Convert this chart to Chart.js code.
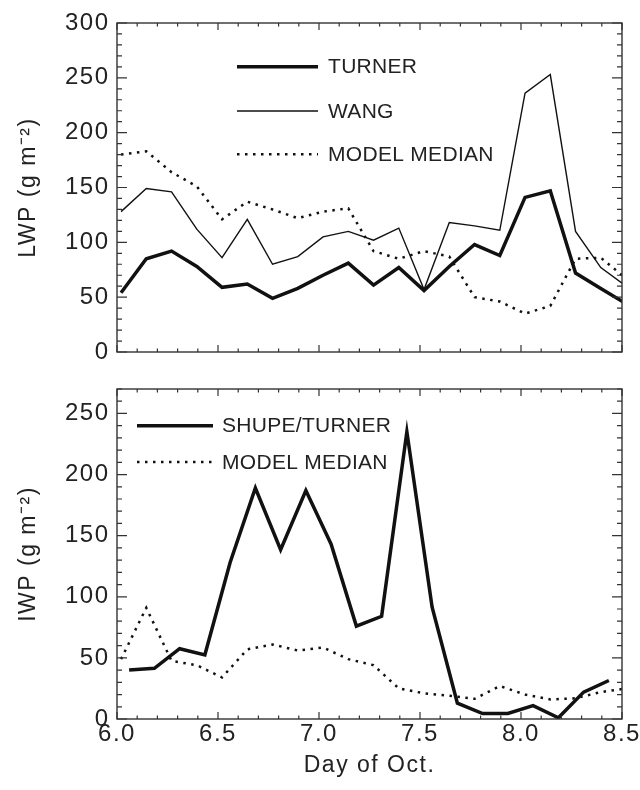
<!DOCTYPE html>
<html>
<head>
<meta charset="utf-8">
<script src="https://cdn.jsdelivr.net/npm/chart.js@4.4.0/dist/chart.umd.min.js"></script>
<style>
  html, body { margin: 0; padding: 0; background: #fff; }
  .painel { position: absolute; left: 0; width: 640px; }
  #painelLwp { top: 0; height: 370px; }
  #painelIwp { top: 370px; height: 420px; }
</style>
</head>
<body>
<div class="painel" id="painelLwp"><canvas id="graficoLwp"></canvas></div>
<div class="painel" id="painelIwp"><canvas id="graficoIwp"></canvas></div>
<script>
// dias (3 em 3 horas) das series de agua liquida e do modelo
const diasLwp = [6.02, 6.145, 6.27, 6.395, 6.52, 6.645, 6.77, 6.895, 7.02, 7.145, 7.27,
    7.395, 7.52, 7.645, 7.77, 7.895, 8.02, 8.145, 8.27, 8.395, 8.52];
const turnerLwp = [54, 85, 92, 78, 59, 62, 49, 58, 70, 81, 61, 77, 56, 78, 98, 88, 141, 147, 72, 58, 44];
const wangLwp = [128, 149, 146, 112, 86, 121, 80, 87, 105, 110, 102, 113, 57, 118, 115, 111, 236, 253, 110, 77, 60];
const modeloLwp = [180, 183, 164, 151, 121, 137, 130, 122, 128, 131, 92, 85, 92, 87, 50, 46, 35, 42, 85, 86, 67];

// gelo: SHUPE/TURNER tem outro horario
const diasIwp = [6.06, 6.185, 6.31, 6.435, 6.56, 6.685, 6.81, 6.935, 7.06, 7.185, 7.31,
    7.435, 7.56, 7.685, 7.81, 7.935, 8.06, 8.185, 8.31, 8.435];
const shupeIwp = [40, 41.5, 57.5, 52.5, 128, 189, 138.5, 187, 143, 76, 84, 235, 91.5, 13, 4.5, 4.5, 11, 1, 22, 31.5];
const modeloIwp = [49, 91, 47.5, 44, 34, 57, 61, 56, 58.5, 49, 44, 25, 21, 19, 16.5, 27, 20, 16, 17, 22, 25];

const ticksDia = [6.0, 6.5, 7.0, 7.5, 8.0, 8.5];
const ticksLwp = [0, 50, 100, 150, 200, 250, 300];
const ticksIwp = [0, 50, 100, 150, 200, 250];

Chart.defaults.font.family = '"Liberation Sans", Arial, sans-serif';
Chart.defaults.color = '#222';

function pontos(dias, valores) {
    return valores.map((v, i) => ({ x: dias[i], y: v }));
}

// caixa em volta do grafico com marcas para dentro nos quatro lados
const marcasInternas = {
    id: 'marcasInternas',
    afterDraw(chart, args, opts) {
        const { ctx, chartArea: a, scales } = chart;
        ctx.save();
        ctx.strokeStyle = '#333';
        ctx.lineWidth = 1.4;
        ctx.strokeRect(a.left, a.top, a.right - a.left, a.bottom - a.top);
        ctx.lineWidth = 1.2;

        const x = scales.x;
        let n = Math.round((x.max - x.min) / opts.xMenor);
        for (let i = 0; i <= n; i++) {
            const v = x.min + i * opts.xMenor;
            const maior = Math.abs(v / 0.5 - Math.round(v / 0.5)) < 1e-6;
            const len = maior ? 7 : 3.5;
            const px = x.getPixelForValue(v);
            ctx.beginPath();
            ctx.moveTo(px, a.bottom); ctx.lineTo(px, a.bottom - len);
            ctx.moveTo(px, a.top); ctx.lineTo(px, a.top + len);
            ctx.stroke();
        }

        const y = scales.y;
        n = Math.floor((y.max - y.min) / opts.yMenor);
        for (let i = 0; i <= n; i++) {
            const v = y.min + i * opts.yMenor;
            const len = v % 50 === 0 ? 10 : 5;
            const py = y.getPixelForValue(v);
            ctx.beginPath();
            ctx.moveTo(a.left, py); ctx.lineTo(a.left + len, py);
            ctx.moveTo(a.right, py); ctx.lineTo(a.right - len, py);
            ctx.stroke();
        }
        ctx.restore();
    }
};

// legenda desenhada dentro da area do grafico
const legendaInterna = {
    id: 'legendaInterna',
    afterDatasetsDraw(chart, args, opts) {
        const ctx = chart.ctx;
        ctx.save();
        ctx.letterSpacing = '0.3px';
        chart.data.datasets.forEach((ds, i) => {
            const y = opts.linhas[i];
            ctx.strokeStyle = ds.borderColor;
            ctx.lineWidth = ds.borderWidth;
            ctx.setLineDash(ds.borderDash || []);
            ctx.beginPath();
            ctx.moveTo(opts.inicio, y);
            ctx.lineTo(opts.fim, y);
            ctx.stroke();
            ctx.setLineDash([]);
            ctx.fillStyle = '#222';
            ctx.font = '21px "Liberation Sans", Arial, sans-serif';
            ctx.textBaseline = 'middle';
            ctx.fillText(ds.label, opts.texto, y + 1);
        });
        ctx.restore();
    }
};

const espacamento = {
    id: 'espacamento',
    beforeDraw(chart) {
        chart.ctx.letterSpacing = '1.5px';
    }
};

function estiloLinha(label, dados, largura, tracejado) {
    return {
        label: label,
        data: dados,
        borderColor: '#111',
        borderWidth: largura,
        borderDash: tracejado,
        pointRadius: 0,
        tension: 0,
        clip: 0
    };
}

function criaGrafico(canvas, datasets, cfg) {
    return new Chart(canvas, {
        type: 'line',
        data: { datasets: datasets },
        options: {
            responsive: true,
            maintainAspectRatio: false,
            animation: false,
            events: [],
            layout: { padding: { top: cfg.topo, right: 18, left: 0, bottom: 0 } },
            plugins: {
                legend: { display: false },
                tooltip: { enabled: false },
                marcasInternas: { xMenor: 0.1, yMenor: 10 },
                legendaInterna: cfg.legenda
            },
            scales: {
                x: {
                    type: 'linear',
                    min: 6,
                    max: 8.5,
                    grid: { display: false, drawTicks: false },
                    border: { display: false },
                    afterBuildTicks: s => { s.ticks = ticksDia.map(v => ({ value: v })); },
                    ticks: {
                        display: cfg.rotulosX,
                        padding: 1,
                        maxRotation: 0,
                        autoSkip: false,
                        font: { size: 24 },
                        callback: v => v.toFixed(1)
                    },
                    title: {
                        display: cfg.rotulosX,
                        text: 'Day of Oct.',
                        font: { size: 23 },
                        padding: { top: 0, bottom: 11 }
                    },
                    afterFit: s => { s.height = cfg.alturaX; s.paddingLeft = 0; s.paddingRight = 0; }
                },
                y: {
                    min: 0,
                    max: cfg.yMax,
                    grid: { display: false, drawTicks: false },
                    border: { display: false },
                    afterBuildTicks: s => { s.ticks = cfg.ticksY.map(v => ({ value: v })); },
                    ticks: { padding: 7.5, font: { size: 24 } },
                    title: {
                        display: true,
                        text: cfg.tituloY,
                        font: { size: 23 },
                        padding: { top: 15, bottom: 0 }
                    },
                    afterFit: s => { s.width = 117; s.paddingTop = 0; s.paddingBottom = 0; }
                }
            }
        },
        plugins: [espacamento, marcasInternas, legendaInterna]
    });
}

const graficoLwp = criaGrafico(document.getElementById('graficoLwp'), [
    estiloLinha('TURNER', pontos(diasLwp, turnerLwp), 3.5, []),
    estiloLinha('WANG', pontos(diasLwp, wangLwp), 1.4, []),
    estiloLinha('MODEL MEDIAN', pontos(diasLwp, modeloLwp), 2.5, [2.5, 5.5])
], {
    topo: 23, alturaX: 18, yMax: 300, ticksY: ticksLwp, rotulosX: false,
    tituloY: 'LWP (g m\u207B\u00B2)',
    legenda: { inicio: 237, fim: 318, texto: 328, linhas: [66.7, 111, 154.3] }
});

const graficoIwp = criaGrafico(document.getElementById('graficoIwp'), [
    estiloLinha('SHUPE/TURNER', pontos(diasIwp, shupeIwp), 3.5, []),
    estiloLinha('MODEL MEDIAN', pontos(diasLwp, modeloIwp), 2.5, [2.5, 5.5])
], {
    topo: 19, alturaX: 71, yMax: 270, ticksY: ticksIwp, rotulosX: true,
    tituloY: 'IWP (g m\u207B\u00B2)',
    legenda: { inicio: 137, fim: 213, texto: 222, linhas: [55.7, 92] }
});
</script>
</body>
</html>
